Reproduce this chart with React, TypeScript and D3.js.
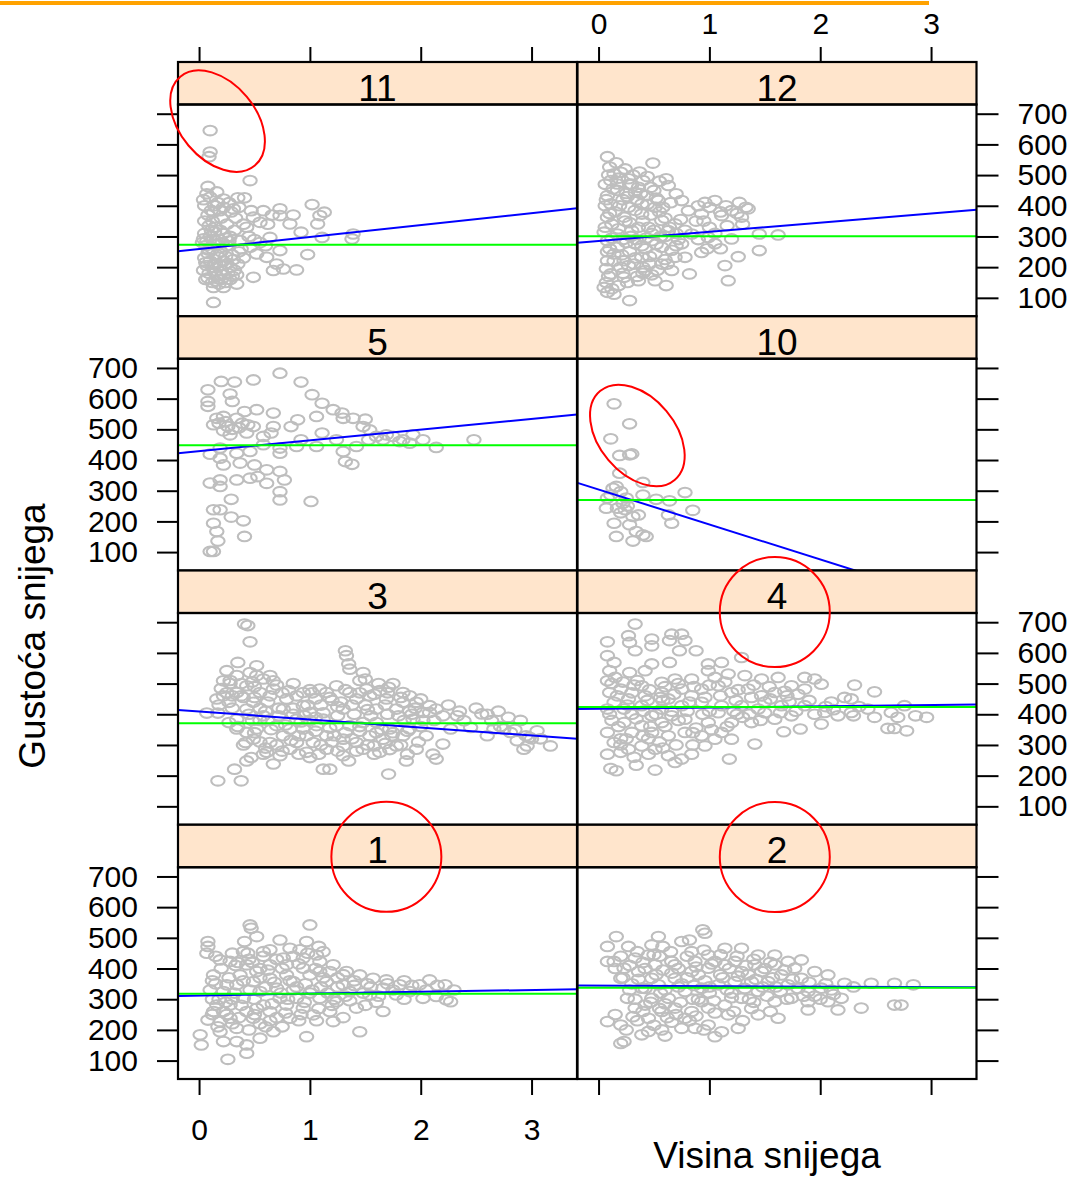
import React, { useEffect, useRef } from 'react';
import * as d3 from 'd3';

type Pt = [number, number];

// panels in reading order (2 columns x 4 rows)
const panelNames = ['11', '12', '5', '10', '3', '4', '1', '2'];
const meanLevel = [273, 301, 448, 270, 371, 424, 318, 337];
const fitIntercept = [259, 285, 429, 304, 409, 418, 312, 344];
const fitSlope = [39, 30, 35, -114, -26, 4, 6, -1.5];
const xTicks = [0, 1, 2, 3];
const yTicks = [100, 200, 300, 400, 500, 600, 700];

const pts11: Pt[] = [
  [0.10, 645], [0.10, 575], [0.09, 560], [0.46, 482], [0.08, 463], [0.07, 439], [0.10, 428], [0.22, 422], [0.35, 426],
  [0.41, 426], [0.13, 379], [0.19, 384], [0.31, 390], [0.47, 384], [0.58, 384], [0.73, 390], [0.73, 368], [0.82, 341],
  [1.02, 404], [1.09, 368], [1.13, 379], [1.07, 341], [0.92, 314], [1.11, 297], [1.39, 308], [1.38, 292], [0.98, 241],
  [0.88, 191], [0.67, 189], [0.70, 210], [0.76, 194], [0.64, 297], [0.73, 254], [0.61, 232], [0.52, 243], [0.49, 363],
  [0.55, 346], [0.43, 330], [0.37, 287], [0.46, 265], [0.49, 167], [0.34, 145], [0.22, 134], [0.13, 134], [0.13, 85],
  [0.04, 292], [0.05, 400], [0.08, 370], [0.12, 350], [0.15, 330], [0.05, 310], [0.10, 300], [0.18, 290], [0.22, 310],
  [0.28, 300], [0.06, 270], [0.12, 260], [0.20, 250], [0.25, 270], [0.30, 240], [0.05, 230], [0.10, 220], [0.15, 210],
  [0.22, 220], [0.28, 200], [0.04, 190], [0.09, 180], [0.16, 170], [0.20, 190], [0.26, 180], [0.06, 160], [0.12, 150],
  [0.20, 160], [0.30, 170], [0.35, 210], [0.40, 230], [0.08, 245], [0.17, 275], [0.25, 340], [0.14, 400], [0.20, 360],
  [0.03, 280], [0.32, 320], [0.38, 260], [0.45, 300], [0.50, 290], [0.55, 280], [0.16, 445], [0.27, 410], [0.33, 360],
  [0.11, 320], [0.24, 295], [0.18, 232], [0.32, 190], [0.07, 205], [0.14, 185], [0.24, 150], [0.36, 250], [0.40, 340],
  [0.62, 340], [0.66, 370], [0.85, 370], [0.60, 270],
  [0.05, 350], [0.09, 335], [0.14, 315], [0.19, 320], [0.07, 285], [0.13, 275], [0.21, 280], [0.27, 285], [0.09, 255],
  [0.16, 240], [0.24, 235], [0.31, 225], [0.06, 215], [0.12, 200], [0.19, 205], [0.25, 210], [0.08, 165], [0.15, 155],
  [0.22, 175], [0.28, 160], [0.34, 175], [0.18, 145], [0.11, 385], [0.22, 395], [0.29, 380], [0.36, 395], [0.17, 410],
  [0.04, 420],
];

const pts12: Pt[] = [
  [0.08, 560], [0.49, 539], [0.10, 526], [0.20, 509], [0.11, 482], [0.27, 488], [0.40, 482], [0.61, 488], [0.63, 466],
  [0.08, 433], [0.17, 450], [0.33, 444], [0.43, 433], [0.70, 439], [0.75, 417], [0.54, 417], [0.81, 384], [0.96, 411],
  [1.05, 417], [1.27, 411], [1.35, 390], [1.20, 384], [0.93, 373], [1.11, 368], [1.29, 363], [0.08, 363], [0.23, 363],
  [0.39, 373], [0.57, 352], [0.69, 341], [1.45, 308], [1.62, 305], [1.45, 254], [1.26, 234], [1.14, 205], [1.17, 156],
  [0.82, 178], [0.69, 232], [0.78, 232], [0.93, 248], [1.05, 276], [1.20, 292], [0.08, 286], [0.17, 265], [0.33, 276],
  [0.48, 286], [0.57, 265], [0.08, 221], [0.23, 221], [0.39, 232], [0.57, 210], [0.11, 178], [0.23, 167], [0.36, 156],
  [0.51, 156], [0.61, 140], [0.08, 118], [0.14, 112], [0.28, 91], [0.05, 134], [0.84, 308], [0.99, 297], [0.75, 276],
  [0.63, 319], [0.17, 308], [0.30, 319], [0.45, 330], [0.11, 406], [0.27, 395], [0.39, 406], [0.51, 395], [0.05, 314],
  [0.51, 243], [0.66, 189], [0.42, 189], [0.14, 243], [0.36, 460], [0.17, 471], [0.14, 504], [0.24, 520], [0.31, 500],
  [0.06, 470], [0.22, 420], [0.35, 420], [0.47, 460], [0.55, 380], [0.28, 345], [0.12, 340], [0.40, 350], [0.60, 300],
  [0.48, 310], [0.34, 290], [0.22, 290], [0.10, 260], [0.28, 250], [0.42, 260], [0.70, 270], [0.88, 350], [1.00, 395],
  [1.15, 400], [1.33, 395], [1.00, 330], [1.16, 335], [0.90, 290], [0.20, 200], [0.32, 210], [0.46, 210], [0.07, 195],
  [0.18, 140], [0.40, 180], [0.62, 210], [0.72, 290], [0.06, 400], [0.15, 380], [0.25, 440], [0.50, 450],
  [0.09, 500], [0.18, 490], [0.30, 470], [0.44, 495], [0.55, 480], [0.13, 455], [0.26, 430], [0.38, 440], [0.52, 425],
  [0.65, 410], [0.07, 420], [0.19, 400], [0.33, 385], [0.47, 370], [0.60, 360], [0.74, 355], [0.10, 375], [0.24, 350],
  [0.36, 330], [0.50, 320], [0.64, 330], [0.78, 320], [0.06, 330], [0.18, 325], [0.29, 300], [0.43, 295], [0.56, 300],
  [0.70, 310], [0.12, 295], [0.25, 280], [0.39, 270], [0.52, 275], [0.66, 255], [0.08, 250], [0.21, 240], [0.33, 230],
  [0.46, 235], [0.60, 225], [0.14, 220], [0.27, 205], [0.40, 200], [0.53, 190], [0.09, 170], [0.22, 180], [0.35, 170],
  [0.48, 175], [0.12, 130], [0.26, 150], [0.07, 150], [0.16, 540], [0.37, 510], [0.28, 470], [0.44, 405], [0.58, 395],
  [0.90, 400], [1.10, 380], [1.25, 375], [0.95, 350], [1.05, 310], [1.30, 340], [1.10, 260], [0.98, 260],
];

const pts5: Pt[] = [
  [0.73, 683], [0.49, 661], [0.20, 656], [0.32, 654], [0.92, 654], [0.08, 629], [0.08, 591], [0.08, 575], [0.28, 615],
  [0.30, 591], [1.02, 613], [1.11, 585], [1.21, 564], [1.29, 553], [1.30, 536], [1.39, 536], [1.50, 533], [1.06, 542],
  [0.89, 531], [0.83, 509], [0.67, 553], [0.52, 564], [0.41, 558], [0.16, 536], [0.22, 542], [0.34, 536], [0.13, 515],
  [0.26, 509], [0.39, 520], [0.49, 509], [0.67, 509], [0.28, 482], [0.43, 488], [0.58, 477], [0.65, 488], [1.48, 509],
  [1.54, 498], [1.60, 477], [1.69, 482], [1.75, 477], [1.84, 466], [1.93, 482], [2.02, 466], [2.14, 441], [2.48, 466],
  [1.90, 455], [1.81, 460], [1.66, 466], [1.53, 466], [1.11, 488], [1.24, 466], [1.30, 428], [1.32, 395], [1.38, 386],
  [1.42, 444], [1.06, 444], [0.88, 444], [0.92, 466], [0.73, 439], [0.73, 422], [0.58, 450], [0.46, 428], [0.34, 422],
  [0.19, 439], [0.10, 419], [0.19, 406], [0.37, 390], [0.22, 384], [0.50, 384], [0.61, 368], [0.73, 363], [0.77, 335],
  [0.46, 341], [0.34, 335], [0.19, 335], [0.10, 325], [0.19, 314], [0.53, 346], [0.61, 324], [0.73, 297], [0.73, 270],
  [1.01, 265], [0.29, 272], [0.13, 238], [0.19, 238], [0.29, 214], [0.40, 202], [0.13, 194], [0.16, 167], [0.17, 136],
  [0.41, 151], [0.10, 102], [0.13, 102], [0.18, 520], [0.24, 525], [0.30, 500], [0.36, 505], [0.22, 495], [0.44, 515],
];

const pts10: Pt[] = [
  [0.14, 583], [0.28, 518], [0.11, 469], [0.19, 415], [0.28, 417], [0.30, 420], [0.19, 357], [0.40, 327], [0.13, 308],
  [0.20, 297], [0.40, 286], [0.52, 272], [0.64, 267], [0.78, 294], [0.85, 236], [0.08, 276], [0.25, 276], [0.07, 243],
  [0.17, 243], [0.24, 238], [0.31, 216], [0.36, 221], [0.14, 194], [0.28, 189], [0.63, 221], [0.66, 194], [0.16, 151],
  [0.31, 136], [0.40, 156], [0.43, 151], [0.34, 167], [0.22, 259], [0.11, 286], [0.16, 314], [0.20, 228], [0.26, 250],
];

const pts3: Pt[] = [
  [0.41, 694], [0.44, 689], [0.46, 636], [1.32, 607], [1.33, 591], [1.35, 564], [1.36, 547], [1.48, 536], [1.50, 515],
  [0.35, 569], [0.25, 542], [0.52, 558], [0.22, 509], [0.20, 484], [0.16, 450], [0.07, 404], [0.17, 404], [0.27, 373],
  [0.34, 352], [0.43, 341], [0.49, 319], [0.58, 270], [0.67, 238], [0.43, 248], [0.47, 259], [0.32, 221], [0.38, 183],
  [0.17, 183], [1.12, 221], [1.18, 221], [1.35, 248], [1.71, 205], [1.87, 248], [2.14, 254], [2.11, 270], [2.20, 303],
  [2.27, 352], [2.33, 395], [2.45, 357], [2.55, 401], [2.64, 379], [2.79, 390], [2.75, 352], [2.87, 314], [2.96, 297],
  [3.05, 346], [3.17, 297], [2.93, 286], [2.81, 341], [2.66, 352], [2.39, 379], [2.08, 428], [1.90, 460], [1.84, 471],
  [1.71, 488], [1.63, 477], [1.24, 493], [1.15, 471], [1.05, 450], [0.94, 428], [0.81, 477], [0.67, 509], [0.58, 515],
  [0.52, 526], [0.43, 493], [0.34, 471], [0.27, 439], [0.49, 439], [0.64, 460], [0.76, 417], [0.88, 384], [1.00, 406],
  [1.12, 384], [1.30, 417], [1.42, 450], [1.54, 460], [1.60, 417], [1.78, 417], [1.93, 384], [2.02, 406], [2.14, 417],
  [2.05, 330], [1.90, 352], [1.72, 352], [1.54, 330], [1.42, 308], [1.30, 319], [1.15, 330], [1.03, 308], [0.88, 308],
  [0.76, 330], [0.64, 308], [0.52, 352], [0.58, 395], [0.70, 363], [0.82, 286], [0.97, 276], [1.15, 286], [1.30, 297],
  [1.48, 286], [1.63, 276], [1.78, 297], [1.96, 286], [1.84, 330], [1.66, 319], [1.48, 373], [1.36, 363], [1.24, 363],
  [1.06, 363], [0.94, 352], [0.82, 352], [0.43, 417], [0.55, 471], [0.67, 482], [0.79, 450], [0.94, 471], [1.09, 482],
  [1.36, 471], [1.51, 482], [1.69, 450], [1.84, 439], [1.96, 439], [2.08, 406], [1.60, 373], [0.34, 526], [0.46, 536],
  [0.64, 526], [0.34, 384], [0.42, 308], [0.61, 276], [0.73, 265], [1.00, 259], [1.30, 265], [1.58, 297], [2.25, 430],
  [2.50, 420], [2.70, 410], [2.90, 380], [2.95, 330], [3.00, 320], [2.60, 330], [0.30, 460], [0.38, 500], [0.55, 420],
  [0.62, 380], [0.95, 395], [1.10, 430], [1.20, 445], [1.40, 400], [1.55, 395], [1.70, 400], [1.75, 340], [1.20, 310],
  [0.90, 330], [0.72, 420], [0.85, 400], [1.05, 390], [1.25, 395], [1.45, 345], [1.65, 350], [1.85, 380], [2.00, 360],
  [0.48, 380], [0.40, 455], [0.28, 500], [0.50, 490], [0.85, 500], [1.00, 480], [1.28, 440], [1.50, 430], [1.90, 410],
  [0.25, 470], [0.38, 460], [0.50, 455], [0.62, 440], [0.75, 470], [0.88, 460], [1.02, 470], [1.18, 455], [1.32, 480],
  [1.45, 470], [1.58, 465], [1.70, 470], [1.82, 455], [1.95, 420], [0.30, 420], [0.45, 400], [0.60, 410], [0.72, 395],
  [0.85, 420], [0.98, 430], [1.12, 405], [1.25, 425], [1.38, 430], [1.52, 415], [1.68, 430], [1.80, 395], [1.92, 400],
  [0.35, 360], [0.50, 340], [0.65, 350], [0.78, 365], [0.92, 375], [1.05, 345], [1.18, 355], [1.32, 340], [1.45, 360],
  [1.60, 340], [1.74, 330], [1.88, 345], [2.02, 380], [0.40, 300], [0.55, 310], [0.70, 300], [0.83, 315], [0.97, 330],
  [1.10, 300], [1.22, 330], [1.38, 320], [1.52, 300], [1.68, 305], [1.82, 300], [1.98, 310], [0.60, 290], [0.75, 280],
  [0.90, 270], [1.08, 270], [1.25, 280], [1.42, 280], [1.58, 270], [1.72, 285], [1.88, 270], [2.12, 380], [2.20, 395],
  [2.35, 410], [2.60, 400], [2.72, 360], [2.85, 350], [2.98, 325], [3.08, 320], [0.28, 510], [0.48, 505], [0.70, 495],
  [1.45, 510], [1.62, 500], [1.75, 500], [2.00, 450], [0.22, 460], [0.18, 430], [0.55, 380], [1.00, 380],
];

const pts4: Pt[] = [
  [0.33, 694], [0.08, 636], [0.27, 656], [0.28, 634], [0.48, 645], [0.48, 623], [0.33, 607], [0.66, 661], [0.75, 661],
  [0.64, 640], [0.78, 640], [0.73, 607], [0.88, 607], [1.29, 585], [0.08, 591], [0.14, 569], [0.10, 542], [0.28, 536],
  [0.08, 509], [0.10, 471], [0.42, 542], [0.48, 564], [0.64, 569], [0.99, 564], [1.11, 569], [0.99, 542], [1.17, 531],
  [1.32, 526], [1.47, 515], [1.62, 520], [1.86, 520], [1.95, 515], [2.01, 498], [2.31, 495], [2.49, 473], [2.22, 455],
  [2.28, 450], [1.86, 482], [1.74, 493], [1.59, 471], [0.20, 482], [0.39, 493], [0.57, 504], [0.69, 515], [0.84, 515],
  [0.14, 439], [0.27, 450], [0.42, 460], [0.57, 471], [0.75, 482], [0.93, 482], [1.08, 493], [1.20, 471], [1.35, 482],
  [1.47, 460], [0.08, 417], [0.23, 417], [0.39, 428], [0.57, 417], [0.75, 428], [0.93, 439], [1.11, 428], [1.29, 428],
  [1.44, 417], [1.65, 428], [1.86, 428], [2.04, 406], [2.16, 395], [2.28, 406], [2.43, 417], [2.49, 390], [2.64, 406],
  [2.70, 390], [2.76, 428], [2.86, 395], [2.96, 390], [2.61, 354], [2.67, 354], [2.78, 346], [2.01, 368], [1.82, 352],
  [1.67, 343], [1.41, 303], [1.18, 254], [1.20, 319], [1.05, 319], [0.93, 330], [0.78, 341], [0.63, 330], [0.48, 341],
  [0.30, 341], [0.08, 341], [0.14, 308], [0.27, 286], [0.39, 297], [0.51, 286], [0.63, 265], [0.75, 254], [0.84, 270],
  [0.69, 243], [0.51, 218], [0.34, 234], [0.11, 223], [0.16, 216], [0.08, 270], [0.20, 276], [0.39, 363], [0.57, 373],
  [0.78, 384], [0.99, 373], [1.20, 373], [1.38, 373], [1.59, 384], [1.74, 395], [0.23, 373], [0.96, 297], [1.11, 341],
  [0.63, 450], [0.84, 460], [0.30, 400], [0.48, 395], [0.66, 395], [1.00, 410], [1.25, 400], [1.50, 440], [1.70, 460],
  [2.10, 440], [2.35, 425], [0.15, 520], [0.35, 510], [1.05, 520], [0.20, 320], [0.45, 320], [0.85, 300], [0.58, 445],
  [0.12, 500], [0.22, 505], [0.32, 495], [0.46, 480], [0.60, 490], [0.72, 500], [0.86, 490], [1.00, 495], [1.14, 505],
  [1.26, 480], [1.40, 495], [1.54, 490], [1.68, 475], [1.80, 465], [0.17, 460], [0.30, 470], [0.44, 445], [0.56, 455],
  [0.68, 465], [0.82, 440], [0.96, 455], [1.10, 460], [1.24, 445], [1.38, 455], [1.55, 450], [1.72, 440], [1.90, 445],
  [2.05, 425], [0.10, 400], [0.26, 430], [0.40, 410], [0.52, 400], [0.66, 410], [0.80, 410], [0.94, 400], [1.08, 405],
  [1.22, 410], [1.36, 400], [1.50, 405], [1.64, 405], [1.78, 410], [1.95, 400], [2.12, 415], [2.30, 395], [0.18, 360],
  [0.34, 385], [0.47, 360], [0.60, 360], [0.72, 380], [0.88, 355], [1.02, 350], [1.16, 360], [1.30, 390], [1.46, 380],
  [0.25, 320], [0.40, 330], [0.55, 310], [0.70, 300], [0.85, 340], [0.12, 380], [0.20, 300], [0.32, 260], [0.45, 270],
  [0.58, 290],
];

const pts1: Pt[] = [
  [0.46, 542], [0.47, 531], [1.00, 542], [0.08, 488], [0.08, 472], [0.07, 450], [0.41, 488], [0.52, 504], [0.73, 493],
  [0.82, 466], [0.97, 488], [1.08, 472], [0.64, 461], [0.44, 450], [0.19, 428], [0.28, 423], [0.13, 379], [0.10, 330],
  [0.25, 347], [0.37, 379], [0.52, 390], [0.64, 412], [0.79, 412], [0.94, 434], [1.09, 423], [1.21, 412], [1.33, 390],
  [1.45, 379], [1.57, 368], [1.69, 363], [1.81, 347], [1.99, 347], [2.08, 363], [2.22, 347], [2.27, 292], [2.02, 303],
  [1.90, 325], [1.78, 314], [1.66, 260], [1.42, 271], [1.45, 194], [1.21, 227], [0.97, 178], [0.82, 238], [0.67, 194],
  [0.55, 173], [0.43, 151], [0.26, 104], [0.22, 162], [0.02, 151], [0.01, 184], [0.08, 232], [0.19, 227], [0.34, 205],
  [0.49, 238], [0.64, 260], [0.79, 281], [0.94, 271], [1.09, 303], [1.24, 292], [1.36, 325], [1.54, 314], [1.66, 336],
  [0.28, 281], [0.40, 303], [0.55, 325], [0.70, 336], [0.85, 357], [1.00, 379], [1.15, 357], [1.30, 347], [0.22, 325],
  [0.34, 347], [0.49, 357], [0.64, 368], [0.79, 379], [0.94, 401], [1.09, 390], [0.28, 238], [0.43, 260], [0.58, 281],
  [0.73, 303], [0.88, 303], [1.03, 249], [1.18, 260], [0.43, 412], [0.58, 455], [0.91, 461], [0.76, 434], [1.06, 444],
  [0.40, 455], [0.16, 281], [0.13, 260], [0.19, 194], [0.34, 162], [0.43, 124], [2.14, 309], [2.23, 298], [0.30, 300],
  [0.50, 300], [0.70, 240], [0.90, 230], [1.10, 340], [1.25, 370], [1.40, 345], [1.55, 340], [0.60, 210], [0.85, 330],
  [1.00, 320], [0.15, 350], [0.35, 420], [0.55, 400], [1.20, 280], [1.60, 290], [1.85, 300], [0.25, 250], [0.45, 200],
  [0.15, 440], [0.30, 450], [0.45, 430], [0.58, 440], [0.70, 430], [0.85, 440], [0.98, 450], [1.12, 455], [0.20, 400],
  [0.33, 410], [0.48, 420], [0.62, 395], [0.75, 400], [0.90, 415], [1.05, 400], [1.18, 390], [1.30, 380], [0.12, 360],
  [0.27, 370], [0.40, 360], [0.55, 370], [0.68, 355], [0.82, 360], [0.96, 350], [1.12, 370], [1.25, 340], [1.40, 360],
  [1.52, 350], [0.18, 300], [0.32, 320], [0.46, 330], [0.60, 340], [0.74, 320], [0.88, 340], [1.02, 330], [1.16, 320],
  [1.32, 310], [1.48, 320], [1.62, 310], [1.75, 330], [0.24, 290], [0.38, 280], [0.52, 270], [0.66, 285], [0.80, 300],
  [0.95, 290], [1.08, 270], [1.22, 300], [1.36, 295], [1.50, 280], [0.12, 250], [0.22, 260], [0.36, 240], [0.50, 250],
  [0.64, 230], [0.78, 255], [0.92, 250], [1.06, 230], [1.30, 240], [0.17, 210], [0.30, 220], [0.55, 220], [0.75, 210],
  [0.12, 300], [1.92, 345], [2.05, 330], [2.30, 330], [1.85, 360], [1.70, 350], [2.15, 345],
];

const pts2: Pt[] = [
  [0.16, 504], [0.08, 472], [0.27, 472], [0.54, 504], [0.48, 477], [0.58, 472], [0.94, 526], [0.96, 515], [0.75, 488],
  [0.82, 493], [0.08, 423], [0.14, 423], [0.23, 401], [0.20, 368], [0.33, 434], [0.45, 444], [0.66, 423], [0.84, 455],
  [0.99, 444], [1.14, 466], [1.29, 466], [1.44, 444], [1.59, 444], [1.71, 423], [1.83, 428], [1.95, 390], [2.07, 379],
  [2.22, 352], [2.46, 352], [2.67, 352], [2.84, 347], [2.67, 281], [2.73, 281], [2.37, 271], [2.16, 265], [1.89, 265],
  [1.62, 238], [1.44, 249], [1.26, 205], [1.05, 178], [0.87, 205], [0.75, 205], [0.57, 200], [0.39, 184], [0.23, 162],
  [0.20, 156], [0.08, 227], [0.20, 216], [0.31, 243], [0.42, 281], [0.26, 303], [0.39, 336], [0.54, 347], [0.69, 368],
  [0.84, 390], [0.99, 401], [1.14, 412], [1.29, 390], [1.47, 390], [1.65, 379], [1.83, 368], [2.01, 336], [2.19, 303],
  [2.07, 292], [1.74, 303], [1.59, 292], [1.44, 325], [1.29, 303], [1.14, 281], [0.99, 271], [0.84, 260], [0.69, 271],
  [0.57, 260], [0.45, 238], [0.63, 303], [0.78, 325], [0.93, 336], [1.08, 347], [1.23, 357], [1.38, 357], [1.53, 357],
  [1.71, 347], [1.89, 325], [0.51, 412], [0.69, 412], [0.87, 423], [1.05, 423], [1.23, 423], [1.41, 412], [1.59, 412],
  [1.77, 401], [0.36, 390], [0.48, 368], [0.48, 303], [0.33, 271], [0.78, 238], [0.99, 216], [1.11, 194], [1.17, 249],
  [0.93, 292], [1.89, 292], [0.30, 350], [0.60, 330], [0.75, 350], [0.90, 380], [1.10, 380], [1.35, 380], [1.60, 340],
  [2.30, 340], [2.10, 330], [0.40, 420], [0.55, 440], [1.00, 340], [1.20, 320], [1.40, 290], [0.62, 240], [0.85, 300],
  [0.20, 440], [0.35, 455], [0.50, 445], [0.65, 455], [0.80, 440], [0.95, 460], [1.10, 445], [1.25, 440], [1.40, 430],
  [1.55, 420], [0.15, 400], [0.28, 410], [0.42, 400], [0.58, 395], [0.72, 400], [0.88, 405], [1.02, 415], [1.18, 400],
  [1.33, 410], [1.50, 400], [1.68, 395], [0.22, 370], [0.36, 365], [0.52, 380], [0.66, 385], [0.80, 370], [0.96, 360],
  [1.12, 370], [1.26, 375], [1.42, 365], [1.57, 370], [1.75, 365], [1.90, 355], [2.05, 350], [0.28, 330], [0.42, 335],
  [0.56, 320], [0.72, 340], [0.86, 345], [1.00, 320], [1.16, 330], [1.32, 335], [1.48, 340], [1.64, 325], [1.80, 335],
  [1.95, 310], [2.12, 315], [0.33, 300], [0.47, 290], [0.60, 285], [0.74, 290], [0.90, 300], [1.04, 295], [1.20, 305],
  [1.36, 300], [1.52, 310], [1.70, 300], [1.85, 310], [2.00, 300], [0.40, 260], [0.55, 270], [0.70, 250], [0.88, 245],
  [1.05, 255], [1.22, 260], [1.38, 270], [1.55, 260], [0.35, 230], [0.50, 215], [0.66, 225], [0.82, 230], [0.95, 200],
  [1.30, 230], [0.25, 200], [0.60, 180], [0.45, 195], [0.15, 250],
];

const pointsByPanel = [pts11, pts12, pts5, pts10, pts3, pts4, pts1, pts2];

// red annotation marks, centres in panel data units
const noteEllipses = [
  { panel: 0, x: 0.167, y: 676 },
  { panel: 3, x: 0.35, y: 480 },
];
const noteCircles = [
  { panel: 5, x: 1.59, y: 733 },
  { panel: 6, x: 1.69, y: 764 },
  { panel: 7, x: 1.59, y: 763 },
];

export default function App() {
  const svgRef = useRef<SVGSVGElement>(null);

  useEffect(() => {
    if (!svgRef.current) return;
    const svg = d3.select(svgRef.current);
    svg.selectAll('*').remove();

    const font = '"Liberation Sans", Arial, Helvetica, sans-serif';
    const colLeft = [178, 577.5];
    const colW = 399;
    const gridTop = 62;
    const stripH = 42.5;
    const panelH = 211.75;
    const rowH = stripH + panelH;

    const xScale = (col: number) =>
      d3.scaleLinear().domain([-0.19, 3.41]).range([colLeft[col], colLeft[col] + colW]);
    const yScale = (row: number) => {
      const top = gridTop + row * rowH + stripH;
      return d3.scaleLinear().domain([40, 730]).range([top + panelH, top]);
    };

    // orange rule at the top
    svg.append('line')
      .attr('x1', 0).attr('x2', 929).attr('y1', 3).attr('y2', 3)
      .attr('stroke', '#FFA200').attr('stroke-width', 4);

    const defs = svg.append('defs');

    function styleAxis(ag: d3.Selection<SVGGElement, unknown, null, undefined>) {
      ag.select('.domain').remove();
      ag.selectAll('line').attr('stroke', '#000').attr('stroke-width', 2);
      ag.selectAll('text').attr('fill', '#000').attr('font-size', 30).attr('font-family', font);
    }

    panelNames.forEach((name, i) => {
      const col = i % 2;
      const row = Math.floor(i / 2);
      const x = xScale(col);
      const y = yScale(row);
      const sTop = gridTop + row * rowH;
      const pTop = sTop + stripH;
      const left = colLeft[col];

      defs.append('clipPath').attr('id', `clip${i}`)
        .append('rect').attr('x', left).attr('y', pTop).attr('width', colW).attr('height', panelH);

      const g = svg.append('g').attr('clip-path', `url(#clip${i})`);

      g.selectAll('ellipse')
        .data(pointsByPanel[i])
        .join('ellipse')
        .attr('cx', d => x(d[0]))
        .attr('cy', d => y(d[1]))
        .attr('rx', 6.7)
        .attr('ry', 4.8)
        .attr('fill', 'none')
        .attr('stroke', '#BEBEBE')
        .attr('stroke-width', 2.1);

      const x0 = -0.19, x1 = 3.41;
      g.append('line')
        .attr('x1', x(x0)).attr('x2', x(x1))
        .attr('y1', y(fitIntercept[i] + fitSlope[i] * x0))
        .attr('y2', y(fitIntercept[i] + fitSlope[i] * x1))
        .attr('stroke', '#0000FF').attr('stroke-width', 2);

      g.append('line')
        .attr('x1', x(x0)).attr('x2', x(x1))
        .attr('y1', y(meanLevel[i])).attr('y2', y(meanLevel[i]))
        .attr('stroke', '#00FF00').attr('stroke-width', 2);

      // strip
      svg.append('rect')
        .attr('x', left).attr('y', sTop).attr('width', colW).attr('height', stripH)
        .attr('fill', '#FFE5CC').attr('stroke', '#000').attr('stroke-width', 2.2);
      svg.append('text')
        .attr('x', left + colW / 2).attr('y', sTop + stripH - 4)
        .attr('text-anchor', 'middle')
        .attr('font-family', font).attr('font-size', 37)
        .text(name);

      // panel frame
      svg.append('rect')
        .attr('x', left).attr('y', pTop).attr('width', colW).attr('height', panelH)
        .attr('fill', 'none').attr('stroke', '#000').attr('stroke-width', 2.2);

      // y axes: labels alternate left/right by row
      const labelLeft = row % 2 === 1;
      if (col === 0) {
        const ax = d3.axisLeft(y).tickValues(yTicks).tickSize(21).tickPadding(19).tickSizeOuter(0);
        if (!labelLeft) ax.tickFormat(() => '');
        const ag = svg.append('g').attr('transform', `translate(${left},0)`).call(ax);
        styleAxis(ag);
      } else {
        const ax = d3.axisRight(y).tickValues(yTicks).tickSize(22).tickPadding(19).tickSizeOuter(0);
        if (labelLeft) ax.tickFormat(() => '');
        const ag = svg.append('g').attr('transform', `translate(${left + colW},0)`).call(ax);
        styleAxis(ag);
      }

      if (row === 0) {
        const ax = d3.axisTop(x).tickValues(xTicks).tickSize(15).tickPadding(13).tickSizeOuter(0)
          .tickFormat(col === 0 ? () => '' : d3.format('d'));
        const ag = svg.append('g').attr('transform', `translate(0,${sTop})`).call(ax);
        styleAxis(ag);
      }
      if (row === 3) {
        const ax = d3.axisBottom(x).tickValues(xTicks).tickSize(16).tickPadding(24).tickSizeOuter(0)
          .tickFormat(col === 1 ? () => '' : d3.format('d'));
        const ag = svg.append('g').attr('transform', `translate(0,${pTop + panelH})`).call(ax);
        styleAxis(ag);
      }
    });

    // red annotations
    noteEllipses.forEach(n => {
      const x = xScale(n.panel % 2);
      const y = yScale(Math.floor(n.panel / 2));
      svg.append('ellipse')
        .attr('transform', `translate(${x(n.x)},${y(n.y)}) rotate(50)`)
        .attr('rx', 58).attr('ry', 38)
        .attr('fill', 'none').attr('stroke', '#FF0000').attr('stroke-width', 2);
    });
    noteCircles.forEach(n => {
      const x = xScale(n.panel % 2);
      const y = yScale(Math.floor(n.panel / 2));
      svg.append('circle')
        .attr('cx', x(n.x)).attr('cy', y(n.y)).attr('r', 55)
        .attr('fill', 'none').attr('stroke', '#FF0000').attr('stroke-width', 2);
    });

    // axis titles
    svg.append('text')
      .attr('x', 767).attr('y', 1168)
      .attr('text-anchor', 'middle')
      .attr('font-family', font).attr('font-size', 37)
      .text('Visina snijega');
    svg.append('text')
      .attr('transform', 'translate(45,636) rotate(-90)')
      .attr('text-anchor', 'middle')
      .attr('font-family', font).attr('font-size', 37)
      .text('Gustoća snijega');
  }, []);

  return (
    <svg
      ref={svgRef}
      width={1073}
      height={1178}
      style={{ position: 'absolute', left: 0, top: 0, background: '#fff' }}
    />
  );
}
